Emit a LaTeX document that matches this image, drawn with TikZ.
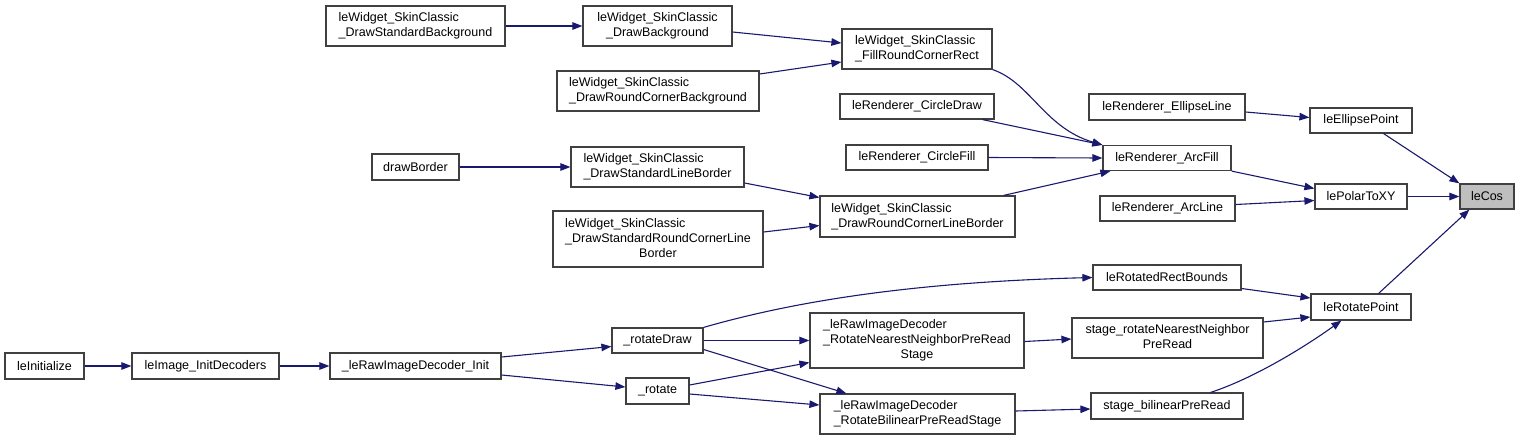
\documentclass[tikz,border=0pt]{standalone}
\usepackage{fontspec}
\setmainfont{Liberation Sans}
\usetikzlibrary{arrows.meta}
\definecolor{edgeblue}{HTML}{191970}
\definecolor{boxgray}{HTML}{404040}
\definecolor{cosgray}{HTML}{BFBFBF}
% label lines: upper ones flush left, last one centred
\newcommand{\fnlabel}[2]{\begin{tabular}{@{}l@{}}#1\\\multicolumn{1}{@{}c@{}}{#2}\end{tabular}}
\newcommand{\fnlabelthree}[3]{\begin{tabular}{@{}l@{}}#1\\#2\\\multicolumn{1}{@{}c@{}}{#3}\end{tabular}}

\begin{document}
\begin{tikzpicture}[x=1pt,y=-1pt,
    every node/.style={font=\fontsize{12.5}{15}\selectfont},
    fn/.style={draw=boxgray,line width=1.2pt,fill=white,inner sep=0pt},
    sz/.style 2 args={minimum width=#1,minimum height=#2},
    call/.style={draw=edgeblue,line width=1.1pt,-{Triangle[length=10pt,width=7.5pt]}}]
  \useasboundingbox (0,0) rectangle (1520,440);
  % callers, left part
  \node[fn,sz={79}{26}] (leinit) at (44.5,366) {leInitialize};
  \node[fn,sz={147}{26}] (initdec) at (205.5,366) {leImage\_InitDecoders};
  \node[fn,sz={179}{40}] (dsb) at (415.5,26) {\fnlabel{leWidget\_SkinClassic}{\_DrawStandardBackground}};
  \node[fn,sz={87}{26}] (dborder) at (415.5,167) {drawBorder};
  \node[fn,sz={171}{26}] (rawinit) at (415.5,366) {\_leRawImageDecoder\_Init};
  % second column
  \node[fn,sz={149}{40}] (db) at (657.5,26) {\fnlabel{leWidget\_SkinClassic}{\_DrawBackground}};
  \node[fn,sz={202}{40}] (drcb) at (658,91) {\fnlabel{leWidget\_SkinClassic}{\_DrawRoundCornerBackground}};
  \node[fn,sz={173}{40}] (dslb) at (657.5,167) {\fnlabel{leWidget\_SkinClassic}{\_DrawStandardLineBorder}};
  \node[fn,sz={210}{56}] (dsrclb) at (658,239) {\fnlabelthree{leWidget\_SkinClassic}{\_DrawStandardRoundCornerLine}{Border}};
  \node[fn,sz={91}{25}] (rotdraw) at (657.5,340.5) {\_rotateDraw};
  \node[fn,sz={63}{26}] (rot) at (657.5,391) {\_rotate};
  % third column
  \node[fn,sz={150}{40}] (frcr) at (917,49) {\fnlabel{leWidget\_SkinClassic}{\_FillRoundCornerRect}};
  \node[fn,sz={154}{25}] (cdraw) at (917,106.5) {leRenderer\_CircleDraw};
  \node[fn,sz={142}{25}] (cfill) at (917,157.5) {leRenderer\_CircleFill};
  \node[fn,sz={195}{41}] (drclb) at (917.5,216.5) {\fnlabel{leWidget\_SkinClassic}{\_DrawRoundCornerLineBorder}};
  \node[fn,sz={214}{55}] (nnprs) at (917,340.5) {\fnlabelthree{\_leRawImageDecoder}{\_RotateNearestNeighborPreRead}{Stage}};
  \node[fn,sz={195}{40}] (bprs) at (917.5,414) {\fnlabel{\_leRawImageDecoder}{\_RotateBilinearPreReadStage}};
  % fourth column
  \node[fn,sz={156}{26}] (elline) at (1167,107) {leRenderer\_EllipseLine};
  \node[fn,sz={128}{25}] (arcfill) at (1167,158) {leRenderer\_ArcFill};
  \node[fn,sz={135}{25}] (arcline) at (1167.5,208.5) {leRenderer\_ArcLine};
  \node[fn,sz={148}{25}] (rrb) at (1167,277.5) {leRotatedRectBounds};
  \node[fn,sz={191}{40}] (snn) at (1167.5,338) {\fnlabel{stage\_rotateNearestNeighbor}{PreRead}};
  \node[fn,sz={152}{26}] (sbil) at (1167,406) {stage\_bilinearPreRead};
  % fifth column and the callee
  \node[fn,sz={102}{25}] (ellpt) at (1361,120.5) {leEllipsePoint};
  \node[fn,sz={92}{25}] (polar) at (1361,196.5) {lePolarToXY};
  \node[fn,sz={100}{26}] (rotpt) at (1361,307) {leRotatePoint};
  \node[fn,fill=cosgray,sz={54}{25}] (lecos) at (1487,196.5) {leCos};
  % calls
  \draw[call] (dsb.east) -- (db.west);
  \draw[call] ([yshift=-6pt]db.east) -- ([yshift=6pt]frcr.west);
  \draw[call] ([yshift=17pt]drcb.east) -- ([yshift=-13pt]frcr.west);
  \draw[call] (frcr.south east) .. controls +(38,13) and +(-58,-17) .. (arcfill.north west);
  \draw[call] ([xshift=-12pt]cdraw.south east) -- (arcfill.north west);
  \draw[call] (cfill.east) -- (arcfill.west);
  \draw[call] ([xshift=-12pt]drclb.north east) -- ([xshift=8pt]arcfill.south west);
  \draw[call] (dborder.east) -- (dslb.west);
  \draw[call] ([yshift=-16pt]dslb.east) -- ([yshift=19pt]drclb.west);
  \draw[call] ([yshift=7pt]dsrclb.east) -- ([yshift=-9pt]drclb.west);
  \draw[call] ([yshift=-5pt]elline.east) -- ([yshift=3pt]ellpt.west);
  \draw[call] ([xshift=-29pt]ellpt.south east) -- (lecos.north west);
  \draw[call] (arcfill.south east) -- ([yshift=8pt]polar.west);
  \draw[call] ([yshift=4pt]arcline.east) -- ([yshift=-4pt]polar.west);
  \draw[call] (polar.east) -- (lecos.west);
  \draw[call] ([xshift=-33pt]rotpt.north east) -- ([xshift=10pt]lecos.south west);
  \draw[call] (leinit.east) -- (initdec.west);
  \draw[call] (initdec.east) -- (rawinit.west);
  \draw[call] ([yshift=9pt]rawinit.east) -- ([yshift=-6pt]rotdraw.west);
  \draw[call] ([yshift=-9pt]rawinit.east) -- ([yshift=4pt]rot.west);
  \draw[call] (rotdraw.north east) .. controls +(80,-23) and +(-193,5) .. (rrb.west);
  \draw[call] (rotdraw.east) -- (nnprs.west);
  \draw[call] ([yshift=-9pt]rotdraw.east) -- ([xshift=27pt]bprs.north west);
  \draw[call] ([yshift=6pt]rot.east) -- ([yshift=-22pt]nnprs.west);
  \draw[call] ([yshift=-3pt]rot.east) -- ([yshift=9pt]bprs.west);
  \draw[call] ([yshift=-1pt]nnprs.east) -- ([yshift=-1pt]snn.west);
  \draw[call] ([yshift=3pt]bprs.east) -- ([yshift=-3pt]sbil.west);
  \draw[call] ([yshift=-11pt]rrb.east) -- ([yshift=9pt]rotpt.west);
  \draw[call] ([yshift=16pt]snn.east) -- ([yshift=-10pt]rotpt.west);
  \draw[call] ([xshift=-33pt]sbil.north east) .. controls +(40,-13) and +(-42,30) .. ([xshift=31pt]rotpt.south west);
\end{tikzpicture}
\end{document}
